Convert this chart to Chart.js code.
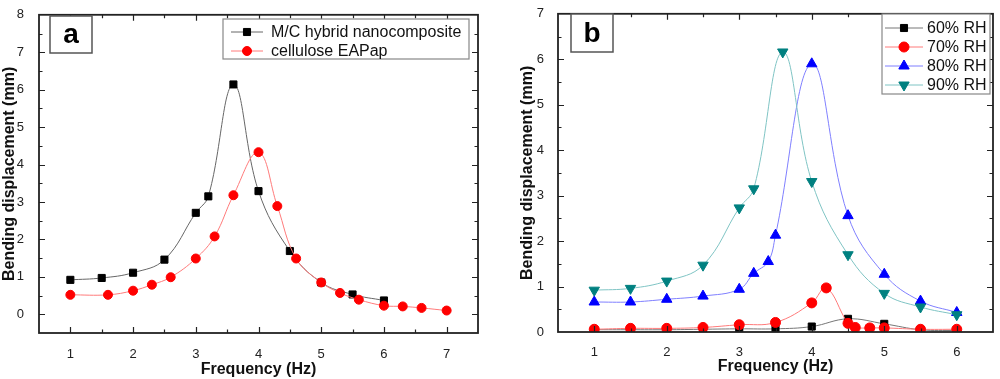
<!DOCTYPE html>
<html>
<head>
<meta charset="utf-8">
<script src="https://cdn.jsdelivr.net/npm/chart.js@4.4.1/dist/chart.umd.min.js"></script>
<style>
html, body { margin: 0; padding: 0; background: #fff; }
#wrap { display: flex; width: 1000px; height: 379px; }
canvas { display: block; }
</style>
</head>
<body>
<div id="wrap">
  <canvas id="chartA" width="500" height="379"></canvas>
  <canvas id="chartB" width="500" height="379"></canvas>
</div>
<script>
// panel a
const freqHybrid = [1, 1.5, 2, 2.5, 3, 3.2, 3.6, 4, 4.5, 5, 5.5, 6];
const dispHybrid = [0.92, 0.97, 1.11, 1.46, 2.71, 3.15, 6.14, 3.29, 1.69, 0.85, 0.53, 0.37];
const freqEapap = [1, 1.6, 2, 2.3, 2.6, 3, 3.3, 3.6, 4, 4.3, 4.6, 5, 5.3, 5.6, 6, 6.3, 6.6, 7];
const dispEapap = [0.52, 0.52, 0.63, 0.79, 0.99, 1.49, 2.08, 3.18, 4.33, 2.89, 1.49, 0.85, 0.57, 0.39, 0.23, 0.21, 0.17, 0.10];
const xTicksA = [1, 2, 3, 4, 5, 6, 7];
const yTicksA = [0, 1, 2, 3, 4, 5, 6, 7, 8];

// panel b
const freq60 = [1, 1.5, 2, 2.5, 3, 3.5, 4, 4.5, 5, 5.5, 6];
const rh60 = [0.05, 0.05, 0.05, 0.06, 0.07, 0.07, 0.12, 0.29, 0.18, 0.05, 0.03];
const freq70 = [1, 1.5, 2, 2.5, 3, 3.5, 4, 4.2, 4.5, 4.6, 4.8, 5, 5.5, 6];
const rh70 = [0.06, 0.08, 0.08, 0.10, 0.16, 0.21, 0.64, 0.97, 0.19, 0.10, 0.09, 0.09, 0.06, 0.06];
const freq80 = [1, 1.5, 2, 2.5, 3, 3.2, 3.4, 3.5, 4, 4.5, 5, 5.5, 6];
const rh80 = [0.66, 0.66, 0.72, 0.79, 0.94, 1.29, 1.55, 2.13, 5.90, 2.56, 1.27, 0.68, 0.43];
const freq90 = [1, 1.5, 2, 2.5, 3, 3.2, 3.6, 4, 4.5, 5, 5.5, 6];
const rh90 = [0.92, 0.96, 1.12, 1.47, 2.73, 3.15, 6.16, 3.31, 1.70, 0.85, 0.55, 0.38];
const xTicksB = [1, 2, 3, 4, 5, 6];
const yTicksB = [0, 1, 2, 3, 4, 5, 6, 7];

const FONT = "'Liberation Sans', Arial, sans-serif";

function pts(xs, ys) {
    return xs.map((x, i) => ({ x: x, y: ys[i] }));
}

function series(label, xs, ys, line, mark, style, rot, r, order) {
    return {
        label: label,
        data: pts(xs, ys),
        borderColor: line,
        borderWidth: 1,
        pointBackgroundColor: mark,
        pointBorderColor: mark,
        pointBorderWidth: 1,
        pointStyle: style,
        pointRotation: rot,
        pointRadius: r,
        tension: 0.4,
        order: order
    };
}

// frame, inward ticks, label box and boxed legend
function decoPlugin(cfg) {
    return {
        id: 'deco',
        afterDraw(chart) {
            const ctx = chart.ctx, a = chart.chartArea;
            const xs = chart.scales.x, ys = chart.scales.y;
            ctx.save();
            ctx.strokeStyle = '#222';
            ctx.lineWidth = 1.2;
            for (let v = Math.ceil(xs.min * 2) / 2; v <= xs.max + 1e-9; v += 0.5) {
                if (Math.abs(v - xs.min) < 1e-9 || Math.abs(v - xs.max) < 1e-9) continue;
                const px = Math.round(xs.getPixelForValue(v)) + 0.5;
                const len = Number.isInteger(v) ? 6 : 3.5;
                ctx.beginPath();
                ctx.moveTo(px, a.bottom); ctx.lineTo(px, a.bottom - len);
                ctx.moveTo(px, a.top); ctx.lineTo(px, a.top + len);
                ctx.stroke();
            }
            for (let v = Math.ceil(ys.min * 2) / 2; v <= ys.max + 1e-9; v += 0.5) {
                if (Math.abs(v - ys.min) < 1e-9 || Math.abs(v - ys.max) < 1e-9) continue;
                const py = Math.round(ys.getPixelForValue(v)) + 0.5;
                const len = Number.isInteger(v) ? 6 : 3.5;
                ctx.beginPath();
                ctx.moveTo(a.left, py); ctx.lineTo(a.left + len, py);
                ctx.moveTo(a.right, py); ctx.lineTo(a.right - len, py);
                ctx.stroke();
            }
            ctx.lineWidth = 1.8;
            ctx.strokeRect(a.left, a.top, a.right - a.left, a.bottom - a.top);

            // panel letter
            const lb = cfg.labelBox;
            ctx.fillStyle = '#fff';
            ctx.fillRect(lb.x, lb.y, lb.w, lb.h);
            ctx.strokeStyle = '#555';
            ctx.lineWidth = 1.5;
            ctx.strokeRect(lb.x, lb.y, lb.w, lb.h);
            ctx.fillStyle = '#000';
            ctx.font = 'bold 28px ' + FONT;
            ctx.textAlign = 'center';
            ctx.textBaseline = 'middle';
            ctx.fillText(cfg.letter, lb.x + lb.w / 2, lb.y + lb.h / 2 + 1);

            // legend
            const lg = cfg.legend;
            ctx.fillStyle = '#fff';
            ctx.fillRect(lg.x, lg.y, lg.w, lg.h);
            ctx.strokeStyle = '#888';
            ctx.lineWidth = 1.2;
            ctx.strokeRect(lg.x, lg.y, lg.w, lg.h);
            ctx.font = lg.font + ' ' + FONT;
            ctx.textAlign = 'left';
            chart.data.datasets.forEach((ds, i) => {
                const cy = lg.y + lg.first + i * lg.step;
                ctx.strokeStyle = ds.borderColor;
                ctx.lineWidth = 1;
                ctx.beginPath();
                ctx.moveTo(lg.x + lg.line0, cy);
                ctx.lineTo(lg.x + lg.line1, cy);
                ctx.stroke();
                ctx.fillStyle = ds.pointBackgroundColor;
                ctx.strokeStyle = ds.pointBorderColor;
                Chart.helpers.drawPoint(ctx, {
                    pointStyle: ds.pointStyle,
                    rotation: ds.pointRotation,
                    radius: ds.pointRadius,
                    borderWidth: 1
                }, lg.x + (lg.line0 + lg.line1) / 2, cy);
                ctx.fillStyle = '#111';
                ctx.textBaseline = 'middle';
                ctx.fillText(ds.label, lg.x + lg.text, cy + 1);
            });
            ctx.restore();
        }
    };
}

function makeChart(id, datasets, ax) {
    new Chart(document.getElementById(id), {
        type: 'line',
        data: { datasets: datasets },
        options: {
            responsive: false,
            animation: false,
            layout: { padding: ax.padding },
            plugins: { legend: { display: false }, tooltip: { enabled: false } },
            scales: {
                x: {
                    type: 'linear',
                    min: ax.xMin, max: ax.xMax,
                    grid: { display: false },
                    border: { display: false },
                    afterBuildTicks: s => { s.ticks = ax.xTicks.map(v => ({ value: v })); },
                    afterFit: s => { s.height = ax.xHeight; },
                    ticks: { color: '#222', padding: ax.xPad, font: { family: FONT, size: 13 } },
                    title: {
                        display: true, text: 'Frequency (Hz)', color: '#111',
                        padding: { top: 0, bottom: ax.xTitlePad },
                        font: { family: FONT, size: 16, weight: 'bold' }
                    }
                },
                y: {
                    type: 'linear',
                    min: ax.yMin, max: ax.yMax,
                    grid: { display: false },
                    border: { display: false },
                    afterBuildTicks: s => { s.ticks = ax.yTicks.map(v => ({ value: v })); },
                    afterFit: s => { s.width = ax.yWidth; },
                    ticks: { color: '#222', padding: ax.yPad, font: { family: FONT, size: 13 } },
                    title: {
                        display: true, text: 'Bending displacement (mm)', color: '#111',
                        padding: { top: 0, bottom: 0 },
                        font: { family: FONT, size: 16, weight: 'bold' }
                    }
                }
            }
        },
        plugins: [decoPlugin(ax.deco)]
    });
}

makeChart('chartA', [
    series('M/C hybrid nanocomposite', freqHybrid, dispHybrid, '#666', '#000', 'rect', 0, 5, 2),
    series('cellulose EAPap', freqEapap, dispEapap, '#ff7a7a', '#ff0000', 'circle', 0, 4.5, 1)
], {
    padding: { top: 10, right: 22, left: 0, bottom: 0 },
    xMin: 0.5, xMax: 7.5, yMin: -0.5, yMax: 8,
    xTicks: xTicksA, yTicks: yTicksA,
    xHeight: 46, yWidth: 39, xPad: 6, yPad: 7, xTitlePad: 0,
    deco: {
        letter: 'a',
        labelBox: { x: 50, y: 16, w: 42, h: 37 },
        legend: { x: 223, y: 19, w: 246, h: 40, first: 13, step: 19, line0: 8, line1: 40, text: 48, font: '16px' }
    }
});

makeChart('chartB', [
    series('60% RH', freq60, rh60, '#777', '#000', 'rect', 0, 5, 4),
    series('70% RH', freq70, rh70, '#ff7a7a', '#ff0000', 'circle', 0, 5, 3),
    series('80% RH', freq80, rh80, '#7f7fff', '#0000ff', 'triangle', 0, 6, 2),
    series('90% RH', freq90, rh90, '#7fc4c4', '#008080', 'triangle', 180, 6, 1)
], {
    padding: { top: 7, right: 2, left: 18, bottom: 0 },
    xMin: 0.5, xMax: 6.5, yMin: 0, yMax: 7,
    xTicks: xTicksB, yTicks: yTicksB,
    xHeight: 47, yWidth: 40, xPad: 5, yPad: 6, xTitlePad: 3,
    deco: {
        letter: 'b',
        labelBox: { x: 71, y: 14, w: 42, h: 38 },
        legend: { x: 382, y: 14, w: 108, h: 80, first: 14, step: 19, line0: 3, line1: 41, text: 45, font: '16px' }
    }
});
</script>
</body>
</html>
